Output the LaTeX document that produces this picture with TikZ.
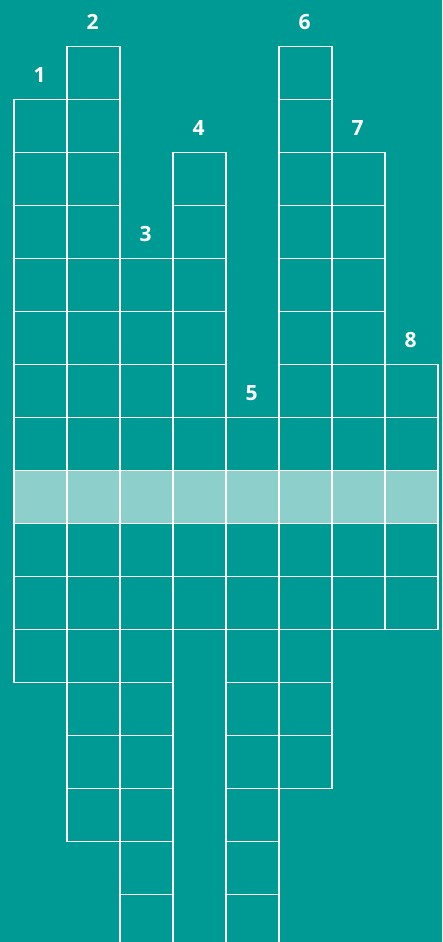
\documentclass[tikz,border=0pt]{standalone}
\usepackage{fontspec}
\setmainfont{Open Sans}
\definecolor{bgteal}{HTML}{009A94}
\definecolor{hiteal}{HTML}{8DCFCB}
\begin{document}
\begin{tikzpicture}[x=1pt,y=-1pt,
  cell/.style={draw=white,line width=1.2pt,minimum size=53pt,inner sep=0pt,anchor=north west},
  hicell/.style={cell,fill=hiteal},
  num/.style={text=white,font=\bfseries\fontsize{21}{21}\selectfont,inner sep=0pt}]
\fill[bgteal] (0,0) rectangle (442,942);
\useasboundingbox (0,0) rectangle (442,942);
% columns: index / first row / last row
\foreach \c/\a/\b in {1/1/11,2/0/14,3/4/16,4/2/10,5/7/16,6/0/13,7/2/10,8/6/10}{
  \foreach \r in {\a,...,\b}{
    \pgfmathsetmacro{\xx}{13.3+53*(\c-1)}
    \pgfmathsetmacro{\yy}{46+53*\r}
    \ifnum\r=8
      \node[hicell] (c\c-\r) at (\xx,\yy) {};
    \else
      \node[cell] (c\c-\r) at (\xx,\yy) {};
    \fi
  }
}
\node[num] (n1) at (39.5,75) {1};
\node[num] (n2) at (92.5,22) {2};
\node[num] (n3) at (145.5,234) {3};
\node[num] (n4) at (198.5,128) {4};
\node[num] (n5) at (251.5,393) {5};
\node[num] (n6) at (304.5,22) {6};
\node[num] (n7) at (357.5,128) {7};
\node[num] (n8) at (410.5,340) {8};
\end{tikzpicture}
\end{document}
